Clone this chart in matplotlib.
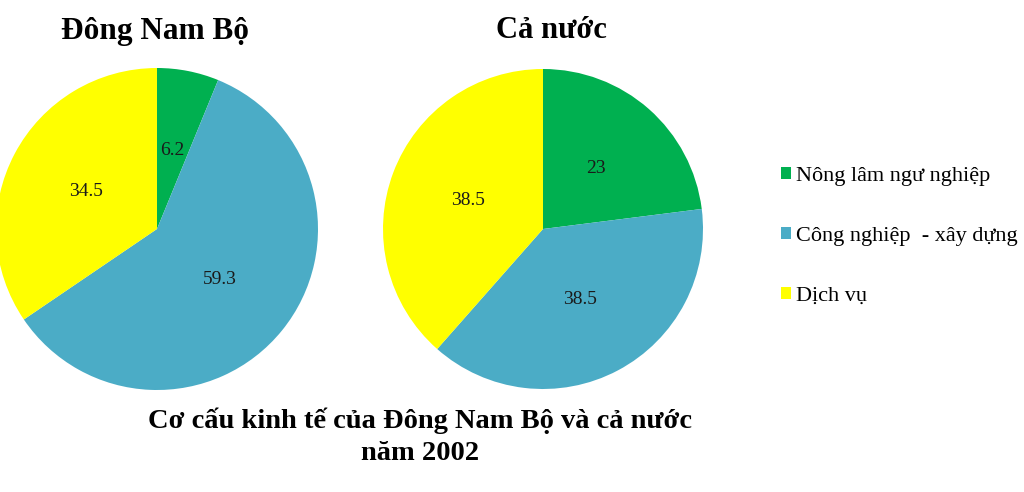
# Cơ cấu kinh tế của Đông Nam Bộ và cả nước năm 2002 - two pie charts

import matplotlib.pyplot as plt

plt.rcParams['font.family'] = ['Liberation Serif', 'DejaVu Serif']

sectors = ['Nông lâm ngư nghiệp', 'Công nghiệp  - xây dựng', 'Dịch vụ']
dong_nam_bo = [6.2, 59.3, 34.5]
ca_nuoc = [23, 38.5, 38.5]
colors = ['#00B050', '#4BACC6', '#FFFF00']

W, H = 1024, 492
fig = plt.figure(figsize=(W / 100, H / 100), dpi=100)
ax = fig.add_axes([0, 0, 1, 1])


def draw_pie(values, cx, cy, r):
    it = iter(values)
    wedges, _, autotexts = ax.pie(
        values, colors=colors, startangle=90, counterclock=False,
        center=(cx, cy), radius=r, autopct=lambda p: f"{next(it):g}",
        pctdistance=0.5, frame=True,
        textprops=dict(fontsize=14, color='#1a1a1a'),
        wedgeprops=dict(linewidth=0))
    return wedges


wedges = draw_pie(dong_nam_bo, 157, H - 229, 161)
draw_pie(ca_nuoc, 543, H - 229, 160)
ax.set_xlim(0, W)
ax.set_ylim(0, H)
ax.set_aspect('equal')
ax.axis('off')

fig.text(155 / W, 1 - 32 / H, 'Đông Nam Bộ', ha='center', va='center',
         fontsize=22.5, fontweight='bold')
fig.text(551 / W, 1 - 30 / H, 'Cả nước', ha='center', va='center',
         fontsize=22, fontweight='bold')

fig.legend(wedges, sectors, loc='upper left', bbox_to_anchor=(772 / W, 1 - 158 / H),
           frameon=False, fontsize=16, handlelength=0.45, handleheight=0.45,
           handletextpad=0.25, labelspacing=1.85, borderaxespad=0)

fig.text(420 / W, 1 - 437 / H, 'Cơ cấu kinh tế của Đông Nam Bộ và cả nước\nnăm 2002',
         ha='center', va='center', fontsize=20.5, fontweight='bold', linespacing=1.35)

fig.savefig('out.png', dpi=100)
